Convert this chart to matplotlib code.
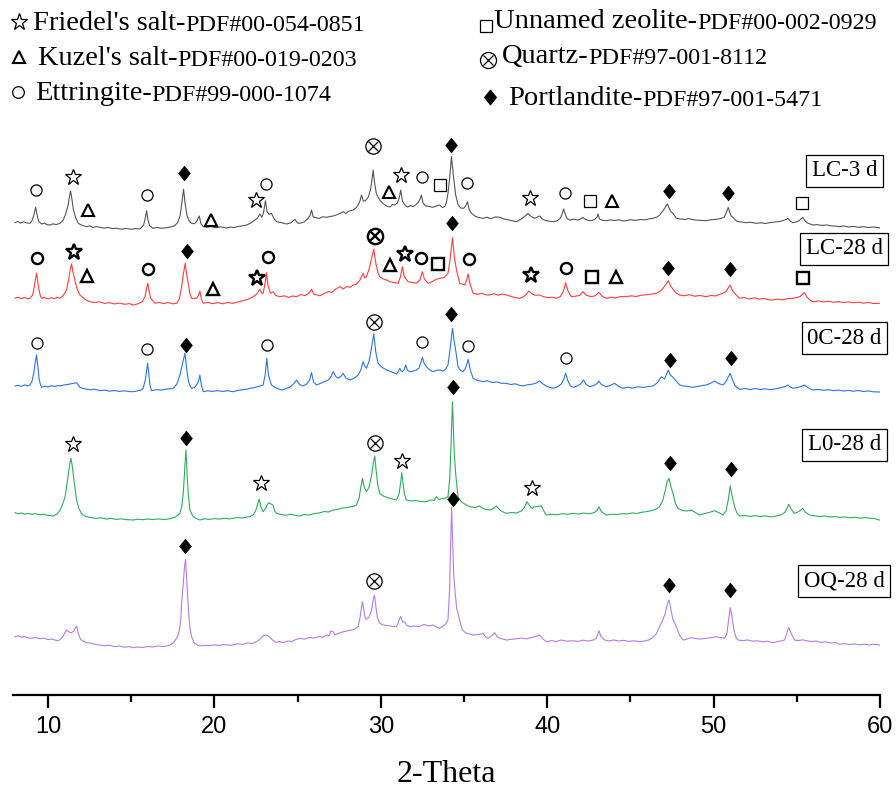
import matplotlib
matplotlib.use("Agg")
import matplotlib.pyplot as plt

plt.rcParams['font.family'] = ['Liberation Serif', 'DejaVu Sans']

# ------------------ data (2-theta, intensity a.u.) ----------------------
tt_lc3 = [8.02, 8.2, 8.35, 8.52, 8.7, 8.92, 9.05, 9.15, 9.26, 9.36, 9.45, 9.62, 9.8, 9.95, 10.12, 10.3, 10.5,
          10.72, 10.9, 11.05, 11.2, 11.3, 11.36, 11.44, 11.52, 11.65, 11.82, 12.0, 12.15, 12.32, 12.5, 12.7,
          12.9, 13.12, 13.4, 13.6, 13.85, 14.13, 14.4, 14.7, 15.0, 15.3, 15.53, 15.75, 15.85, 15.93, 16.0,
          16.1, 16.32, 16.55, 16.8, 17.13, 17.4, 17.6, 17.8, 17.95, 18.05, 18.15, 18.24, 18.35, 18.5, 18.63,
          18.8, 18.93, 19.09, 19.2, 19.35, 19.53, 19.8, 20.1, 20.4, 20.7, 21.0, 21.13, 21.4, 21.7, 21.93,
          22.2, 22.43, 22.6, 22.73, 22.85, 22.95, 23.07, 23.17, 23.3, 23.43, 23.6, 23.74, 24.0, 24.34, 24.6,
          24.84, 25.0, 25.14, 25.4, 25.63, 25.76, 25.84, 25.94, 26.04, 26.3, 26.5, 26.74, 26.95, 27.14, 27.4,
          27.6, 27.74, 27.9, 28.1, 28.34, 28.5, 28.64, 28.75, 28.84, 28.95, 29.08, 29.25, 29.38, 29.47, 29.54,
          29.62, 29.74, 29.94, 30.1, 30.34, 30.55, 30.7, 30.84, 31.0, 31.12, 31.2, 31.3, 31.45, 31.6, 31.8,
          31.94, 32.1, 32.24, 32.36, 32.44, 32.54, 32.7, 32.9, 33.14, 33.35, 33.54, 33.7, 33.84, 33.95, 34.04,
          34.14, 34.25, 34.36, 34.5, 34.65, 34.8, 34.98, 35.1, 35.21, 35.32, 35.45, 35.7, 35.9, 36.14, 36.4,
          36.6, 36.9, 37.15, 37.4, 37.65, 37.9, 38.15, 38.4, 38.6, 38.75, 38.85, 39.0, 39.15, 39.25, 39.4,
          39.55, 39.7, 39.9, 40.1, 40.35, 40.6, 40.8, 40.92, 40.99, 41.1, 41.2, 41.35, 41.6, 41.85, 42.0,
          42.15, 42.3, 42.5, 42.66, 42.85, 43.0, 43.05, 43.15, 43.3, 43.56, 43.8, 44.05, 44.3, 44.55, 44.76,
          45.0, 45.3, 45.6, 45.9, 46.1, 46.36, 46.6, 46.76, 46.95, 47.1, 47.22, 47.35, 47.45, 47.56, 47.76,
          48.0, 48.3, 48.5, 48.66, 48.9, 49.2, 49.56, 49.8, 50.1, 50.3, 50.46, 50.65, 50.78, 50.88, 50.98,
          51.08, 51.16, 51.3, 51.46, 51.7, 51.95, 52.2, 52.56, 52.85, 53.1, 53.4, 53.7, 53.95, 54.2, 54.35,
          54.46, 54.6, 54.76, 54.95, 55.15, 55.28, 55.36, 55.5, 55.65, 55.96, 56.2, 56.5, 56.8, 57.1, 57.35,
          57.57, 57.8, 58.1, 58.4, 58.7, 59.0, 59.3, 59.6, 59.97]
i_lc3 = [7.3, 8.5, 6.8, 8.3, 7.2, 6.7, 9.5, 15, 22.7, 14, 8.5, 6, 6.8, 5.2, 5, 6.2, 5.4,
         6.7, 9.5, 15, 24, 34, 39, 31, 21, 13, 6.7, 5, 4.2, 3.3, 4.2, 2.6,
         3.4, 2.7, 1.8, 2.6, 1.5, 1.7, 0.8, 1.6, 0.7, 1.4, 1, 5, 12, 19.3, 11,
         4.5, 1.7, 2.6, 1.7, 2.3, 3.2, 4.2, 7.5, 15, 28, 40.7, 27, 15, 8.5, 6.7,
         6.3, 8.3, 14, 6, 3.4, 2.7, 3.5, 2.3, 3.1, 2.1, 3, 2.3, 3.4, 4.2, 5,
         7, 10, 12, 16, 12.7, 17, 29.3, 18.3, 15.5, 16.7, 11, 8.3, 7.5, 6, 7.2,
         10.7, 7, 6.7, 8, 11.7, 15, 20, 13, 12.7, 11.5, 13.2, 12.7, 13.5, 14, 15.5,
         17, 18.3, 16.5, 19, 20, 22, 25, 29, 35, 29, 29.3, 33, 40, 50, 60,
         48, 36, 30, 27, 24, 23, 25.5, 25, 27, 33, 40, 29, 25, 23, 24.5,
         23.3, 25, 27.3, 31, 35, 27, 24, 23.5, 22.7, 24, 25, 22.5, 23.3, 28, 36.7,
         52, 73.3, 55, 35, 25, 22, 21.7, 24, 28.3, 20, 16.7, 13.5, 12.5, 11.7, 12.8,
         11.2, 13.1, 12.7, 11, 10.2, 9.2, 8.3, 10.5, 13, 15, 16.7, 14, 12.5, 11.7, 12.8,
         14, 11, 9.5, 8.8, 8.3, 9.2, 12, 17, 21, 15, 11.5, 10, 10.8, 10, 11,
         12.7, 10.5, 9.6, 9.3, 10.5, 13, 16, 11, 9.8, 9.3, 10.1, 9.5, 10.2, 9, 9.3,
         10.3, 9.6, 10.5, 10.2, 11, 11.7, 13, 15, 19, 23, 26, 21, 18, 16.7, 11.7,
         11, 10.5, 11.5, 10.7, 10, 9.6, 9.3, 10.1, 10.6, 11, 11.7, 13, 18, 22.7, 17,
         13.5, 12.7, 10, 8.3, 8, 7.3, 7.8, 6.7, 7.2, 6.5, 7.4, 8, 8.5, 9.5, 10.5,
         11.7, 9, 7.3, 8, 9.5, 11.5, 12.7, 9, 7, 5, 5.4, 4.6, 5, 4.1, 3.8,
         3.3, 4, 3.1, 3.6, 2.7, 3.3, 2.5, 3, 2.3]

tt_lc28 = [8.02, 8.2, 8.4, 8.6, 8.8, 8.92, 9.08, 9.18, 9.26, 9.32, 9.4, 9.46, 9.55, 9.62, 9.8, 10.0, 10.2,
           10.4, 10.55, 10.72, 10.9, 11.05, 11.12, 11.25, 11.35, 11.42, 11.5, 11.62, 11.75, 11.92, 12.1, 12.3,
           12.52, 12.8, 13.1, 13.4, 13.7, 14.0, 14.3, 14.6, 14.9, 15.12, 15.4, 15.65, 15.83, 15.92, 16.0,
           16.08, 16.17, 16.43, 16.7, 16.95, 17.2, 17.5, 17.73, 17.9, 18.03, 18.15, 18.25, 18.34, 18.43, 18.52,
           18.63, 18.93, 19.05, 19.13, 19.22, 19.33, 19.6, 19.9, 20.2, 20.5, 20.8, 21.13, 21.4, 21.7, 22.0,
           22.33, 22.55, 22.73, 22.85, 22.93, 23.05, 23.13, 23.22, 23.37, 23.53, 23.7, 23.93, 24.2, 24.45, 24.7,
           24.94, 25.2, 25.45, 25.7, 25.84, 25.97, 26.15, 26.34, 26.6, 26.85, 27.05, 27.3, 27.54, 27.75, 27.95,
           28.15, 28.34, 28.55, 28.75, 28.94, 29.04, 29.14, 29.3, 29.45, 29.58, 29.7, 29.82, 29.94, 30.15,
           30.35, 30.54, 30.8, 31.04, 31.18, 31.3, 31.42, 31.64, 31.9, 32.14, 32.35, 32.5, 32.62, 32.84, 33.1,
           33.3, 33.54, 33.8, 34.04, 34.16, 34.31, 34.42, 34.55, 34.74, 35.05, 35.16, 35.25, 35.35, 35.55,
           35.8, 36.05, 36.3, 36.55, 36.8, 37.05, 37.3, 37.55, 37.8, 38.05, 38.35, 38.6, 38.78, 38.91, 39.05,
           39.25, 39.55, 39.8, 40.05, 40.3, 40.55, 40.8, 40.98, 41.11, 41.25, 41.45, 41.7, 41.95, 42.15, 42.35,
           42.65, 42.9, 43.11, 43.3, 43.56, 43.85, 44.1, 44.4, 44.76, 45.05, 45.35, 45.65, 45.95, 46.25, 46.56,
           46.8, 46.96, 47.15, 47.28, 47.42, 47.56, 47.75, 47.96, 48.25, 48.55, 48.85, 49.2, 49.56, 49.85,
           50.1, 50.35, 50.56, 50.75, 50.88, 51.0, 51.12, 51.26, 51.56, 51.85, 52.15, 52.45, 52.75, 53.05,
           53.3, 53.56, 53.85, 54.15, 54.45, 54.76, 55.0, 55.2, 55.35, 55.47, 55.6, 55.75, 55.96, 56.3, 56.6,
           56.9, 57.2, 57.5, 57.8, 58.1, 58.4, 58.7, 59.0, 59.3, 59.6, 59.97]
i_lc28 = [6.7, 7.8, 6.4, 7.5, 6.2, 6.7, 10, 18.3, 27, 31.7, 22, 15, 9, 6.7, 7.4, 6.1, 7.2,
          6.3, 7.8, 6.7, 9, 13, 15, 26, 37, 41, 33, 25, 16, 10, 7.5, 5,
          3.3, 2.4, 3.2, 1.6, 2.3, 1.1, 1.9, 0.7, 1.4, 0, 1.2, 3, 8.3, 16, 21.7,
          14, 6.7, 1.7, 2.6, 1.4, 2.5, 1.2, 1.7, 6, 18.3, 32, 41.7, 30, 21.7, 12,
          6.7, 6.7, 10, 14, 6, 1.7, 2.6, 1.3, 2.4, 1.2, 2.5, 1.7, 3, 4.2, 5.5,
          8.3, 11, 15.7, 11.7, 11.7, 22, 32.3, 20, 11.7, 13.3, 9.5, 8.3, 9.2, 7.6, 9,
          8.3, 10.5, 9.4, 12, 15.7, 11, 10.2, 9.3, 11.5, 13.5, 12.6, 16, 18.3, 16, 18.5,
          17.6, 20, 21, 25, 31.7, 27, 28.3, 36, 47, 55.7, 42, 33, 28.3, 26,
          25, 23.3, 22.5, 21.7, 28, 38.3, 28, 23.3, 22.4, 21.7, 25, 33.3, 26, 21.7, 23.5,
          25.5, 26.7, 27.5, 31.7, 45, 67.3, 48, 35, 21.7, 20, 25, 31, 22, 11.7,
          10.6, 11.8, 10.2, 10, 11.3, 9.8, 11, 10, 8.8, 7.5, 6.7, 8.5, 11.5, 14, 11.5,
          9.8, 10, 8.2, 7.4, 7.8, 6.7, 8.5, 14, 22.3, 14, 8.3, 8.8, 9.6, 13.3, 9.7,
          8.3, 9.4, 12.7, 8.8, 6.7, 7.8, 7, 8.4, 8.3, 9.2, 8.5, 9.8, 10.2, 10.8, 11.7,
          14, 16.7, 21, 24.3, 19, 15.7, 12, 10, 9.2, 10.4, 8.8, 9.5, 8.3, 9.6,
          9, 10.5, 11.7, 13.5, 17, 20, 15, 11.7, 6.7, 7.4, 6.1, 7.2, 5.8, 6.6,
          5.2, 5, 5.9, 5.2, 6.3, 6.7, 7.4, 8.5, 11, 12.3, 8, 5.5, 3.3, 4, 3,
          3.8, 2.7, 3.4, 2.4, 3.1, 2.2, 2.9, 1.8, 2.6, 1.5, 1.7]

tt_0c28 = [8.02, 8.2, 8.4, 8.6, 8.8, 8.92, 9.05, 9.16, 9.24, 9.32, 9.4, 9.48, 9.56, 9.62, 9.8, 10.0, 10.2,
           10.4, 10.6, 10.72, 10.95, 11.2, 11.45, 11.6, 11.72, 11.85, 11.92, 12.1, 12.3, 12.55, 12.8, 13.12,
           13.4, 13.7, 14.0, 14.3, 14.6, 14.9, 15.12, 15.4, 15.6, 15.72, 15.85, 15.93, 15.99, 16.06, 16.14,
           16.23, 16.5, 16.8, 17.1, 17.35, 17.53, 17.75, 17.93, 18.08, 18.23, 18.33, 18.43, 18.53, 18.63,
           18.8, 18.93, 19.05, 19.13, 19.22, 19.33, 19.6, 19.9, 20.2, 20.5, 20.8, 21.13, 21.4, 21.7, 21.95,
           22.13, 22.4, 22.65, 22.93, 23.05, 23.15, 23.25, 23.43, 23.6, 23.8, 24.04, 24.3, 24.55, 24.75, 24.94,
           25.12, 25.33, 25.55, 25.72, 25.84, 25.96, 26.14, 26.35, 26.6, 26.85, 27.0, 27.14, 27.3, 27.44, 27.6,
           27.74, 27.9, 28.14, 28.35, 28.5, 28.64, 28.8, 28.94, 29.04, 29.14, 29.3, 29.45, 29.58, 29.7, 29.84,
           30.05, 30.34, 30.6, 30.8, 30.94, 31.04, 31.14, 31.22, 31.3, 31.4, 31.5, 31.6, 31.74, 31.95, 32.14,
           32.3, 32.42, 32.5, 32.6, 32.74, 32.95, 33.14, 33.35, 33.54, 33.75, 33.9, 34.04, 34.16, 34.31, 34.4,
           34.5, 34.64, 34.8, 34.94, 35.1, 35.25, 35.38, 35.55, 35.8, 36.14, 36.4, 36.7, 37.0, 37.25, 37.55,
           37.8, 38.1, 38.3, 38.55, 38.8, 39.1, 39.35, 39.55, 39.75, 40.0, 40.2, 40.35, 40.6, 40.85, 41.0,
           41.11, 41.25, 41.4, 41.55, 41.8, 42.0, 42.19, 42.35, 42.55, 42.8, 43.0, 43.11, 43.25, 43.56, 43.8,
           44.05, 44.25, 44.55, 44.85, 45.15, 45.45, 45.75, 46.05, 46.36, 46.6, 46.86, 47.05, 47.18, 47.28,
           47.4, 47.56, 47.75, 47.96, 48.2, 48.45, 48.76, 49.0, 49.3, 49.56, 49.8, 50.06, 50.3, 50.56, 50.75,
           50.88, 51.0, 51.12, 51.3, 51.56, 51.9, 52.2, 52.5, 52.8, 53.1, 53.35, 53.56, 53.85, 54.1, 54.3,
           54.46, 54.6, 54.76, 55.0, 55.25, 55.47, 55.7, 55.96, 56.3, 56.6, 56.9, 57.2, 57.5, 57.8, 58.1,
           58.4, 58.7, 59.0, 59.3, 59.6, 59.97]
i_0c28 = [6, 6.8, 5.6, 7.1, 6.2, 7, 11, 20.3, 30, 37, 24, 12, 7, 4.7, 5.8, 5.1, 6.2,
          5.6, 6.4, 6, 7, 7.6, 8.4, 8.8, 9.3, 6.5, 4.7, 3.6, 2.9, 2.2, 2.8, 1.3,
          1.8, 0.9, 1.5, 0.6, 1.2, 0.4, 0.3, 1.2, 2, 3.7, 12, 22, 28.7, 18, 6,
          1.3, 2.3, 1.9, 2.8, 3.2, 3.7, 8, 17, 28, 38.7, 24, 12, 6.5, 3.7,
          4.4, 7, 11, 17, 7, 0.3, 1.2, 0.6, 1.4, 0.5, 1.3, 0.3, 1.5, 2.4, 2.8,
          3.7, 4.3, 5.5, 7, 17, 33.7, 17, 7, 5, 3.5, 2, 3.4, 5, 8, 12,
          7.5, 6, 8, 12, 19.3, 10, 7, 8.5, 10.2, 12, 15, 20.3, 15.5, 13.7, 15.5,
          18.7, 14, 12, 13.5, 15, 17, 22, 30.3, 26, 23.7, 31, 45, 58, 40, 28.7,
          25, 22, 20.5, 19, 18, 20, 23.7, 21, 20.3, 22, 27, 22, 20.3, 20.8, 22,
          24, 30, 34.7, 29, 25.3, 22, 20.3, 21.6, 22, 21, 23, 27, 42, 63.7, 52,
          42, 25.3, 21.5, 20.3, 24, 32.7, 22, 13.7, 11.5, 10.3, 11.2, 9.5, 10, 8.7, 8.7,
          7.5, 8.2, 6.8, 6, 7.2, 7.8, 9, 11, 8, 5.5, 4.5, 3.7, 5, 8, 13,
          18.7, 11, 6, 4.7, 6, 8, 12, 7.5, 5.3, 6.5, 8.5, 11, 7.5, 5.3, 6.6,
          8.7, 6, 3.7, 4.8, 3.9, 5.2, 4.6, 5.4, 6, 9, 15.3, 13, 18, 22,
          17, 14.7, 11, 7, 6, 5.5, 4.7, 5.5, 6.4, 7, 8.6, 11, 8.5, 7, 10.5,
          15, 18.7, 13, 6, 2.7, 3.4, 2.5, 3.5, 2.6, 3.2, 2.4, 2.7, 3.5, 4.5, 5.5,
          7, 5, 3.7, 4.3, 5.5, 7, 4, 2, 2.5, 1.7, 2.3, 1.3, 1.9, 1, 1.6,
          0.8, 1.5, 0.5, 1.1, 0.2, 0]

tt_l028 = [8.02, 8.2, 8.4, 8.6, 8.8, 9.0, 9.25, 9.5, 9.75, 10.0, 10.32, 10.55, 10.7, 10.82, 10.95, 11.05,
           11.12, 11.25, 11.32, 11.38, 11.45, 11.56, 11.65, 11.72, 11.85, 12.0, 12.15, 12.32, 12.6, 12.9,
           13.2, 13.5, 13.8, 14.1, 14.4, 14.7, 15.12, 15.4, 15.7, 16.0, 16.3, 16.6, 16.9, 17.13, 17.4, 17.65,
           17.82, 17.93, 18.05, 18.13, 18.2, 18.25, 18.29, 18.34, 18.38, 18.43, 18.53, 18.7, 18.9, 19.13,
           19.4, 19.7, 20.0, 20.3, 20.6, 20.9, 21.13, 21.4, 21.7, 21.95, 22.13, 22.35, 22.5, 22.6, 22.69,
           22.8, 22.93, 23.1, 23.2, 23.29, 23.4, 23.53, 23.62, 23.74, 24.0, 24.3, 24.6, 24.9, 25.14, 25.4,
           25.7, 26.0, 26.3, 26.6, 26.85, 27.14, 27.4, 27.7, 28.0, 28.3, 28.54, 28.7, 28.8, 28.9, 29.0,
           29.14, 29.3, 29.45, 29.55, 29.64, 29.72, 29.82, 29.94, 30.15, 30.4, 30.7, 30.94, 31.1, 31.2,
           31.26, 31.33, 31.42, 31.54, 31.8, 32.1, 32.4, 32.74, 33.0, 33.2, 33.34, 33.5, 33.7, 33.9, 34.04,
           34.14, 34.2, 34.26, 34.31, 34.36, 34.42, 34.5, 34.64, 34.85, 35.14, 35.4, 35.7, 35.9, 36.14,
           36.35, 36.55, 36.75, 36.95, 37.15, 37.35, 37.55, 37.85, 38.15, 38.45, 38.65, 38.79, 38.95, 39.1,
           39.2, 39.35, 39.5, 39.65, 39.8, 39.95, 40.25, 40.6, 40.9, 41.25, 41.55, 41.9, 42.2, 42.5, 42.8,
           43.0, 43.11, 43.25, 43.56, 43.9, 44.2, 44.5, 44.8, 45.1, 45.4, 45.7, 45.96, 46.3, 46.55, 46.76,
           46.95, 47.1, 47.2, 47.32, 47.44, 47.56, 47.7, 47.86, 48.1, 48.4, 48.66, 48.9, 49.16, 49.4, 49.7,
           50.06, 50.3, 50.56, 50.75, 50.88, 51.0, 51.1, 51.26, 51.4, 51.56, 51.9, 52.2, 52.5, 52.8, 53.1,
           53.35, 53.56, 53.85, 54.1, 54.3, 54.42, 54.52, 54.65, 54.86, 55.05, 55.2, 55.36, 55.5, 55.76,
           56.1, 56.4, 56.7, 57.0, 57.3, 57.6, 57.9, 58.2, 58.5, 58.8, 59.1, 59.35, 59.57, 59.8, 59.97]
i_l028 = [7.3, 6.2, 7, 5.8, 6.6, 5.7, 6.4, 5.1, 5.8, 4.6, 4, 6, 9, 13.3, 19, 25,
          33.3, 48, 57, 61.7, 55, 40, 29, 20, 12, 7, 4.5, 3.3, 2.4, 1.6,
          2.2, 1, 1.6, 0.6, 1.2, 0.4, 0, 0.8, 0.3, 1, 0.4, 1.1, 0.6, 0.7, 1.5, 3,
          5, 6.7, 14, 26.7, 45, 60, 70, 55, 40, 26.7, 10, 4, 1.5, 0,
          1.2, 0.6, 1.4, 0.9, 1.8, 1.1, 1.7, 2.5, 2, 3, 3.3, 5.5, 10, 16, 21,
          13, 8.3, 12, 16, 17.3, 16, 15, 9, 6.7, 5.5, 4.8, 5.8, 4.5, 4, 5.5,
          5, 6.5, 7, 8.5, 8, 10, 10.5, 12, 12.5, 13.5, 15, 22, 33, 41.7, 33,
          28.3, 33, 45, 57, 64, 50, 35, 26.7, 24, 22.5, 21, 20, 26, 38,
          47.3, 38, 26, 20, 19, 19.5, 18.5, 18.3, 20, 19.5, 23.3, 20.5, 21.5, 22, 23.3,
          40, 65, 95, 118.3, 95, 65, 46.7, 23.3, 18, 15, 13, 12.5, 14, 11.7,
          10.5, 10, 11.5, 14, 10, 8, 6.7, 7.5, 7, 9, 13, 18.3, 14, 11.5,
          13, 13.3, 13.5, 14, 9, 5, 5.8, 5.2, 6.3, 5.8, 6.7, 6, 7, 6.2, 7.2,
          9.5, 13.3, 8.5, 5, 5.8, 5.4, 6.4, 6, 7, 6.6, 7.8, 8.3, 9.5, 11, 13.3,
          20, 30, 38, 41.7, 33, 26.7, 17, 11.7, 9.5, 9, 10, 7.5, 5, 6.2, 7.4,
          9.3, 7.5, 5, 9, 20, 34.3, 25, 13.3, 7, 4, 4.5, 3.6, 4.4, 3.5, 4.1,
          3.2, 3.3, 4.2, 5.5, 8, 12, 15.7, 11, 6.7, 7.8, 9.5, 11.7, 8, 5,
          4.1, 3.5, 4, 3, 3.5, 2.6, 3.1, 2.3, 2.7, 1.9, 2.4, 1.8, 1.7, 0.8, 0]

tt_oq28 = [8.02, 8.2, 8.4, 8.6, 8.8, 9.0, 9.25, 9.5, 9.75, 10.0, 10.25, 10.45, 10.62, 10.8, 10.95, 11.05,
           11.12, 11.25, 11.42, 11.55, 11.65, 11.72, 11.82, 11.92, 12.02, 12.3, 12.6, 12.85, 13.12, 13.4, 13.7,
           14.0, 14.3, 14.6, 14.9, 15.12, 15.4, 15.7, 16.0, 16.3, 16.6, 16.9, 17.13, 17.35, 17.55, 17.73,
           17.88, 17.98, 18.03, 18.12, 18.2, 18.27, 18.33, 18.38, 18.43, 18.52, 18.63, 18.8, 18.95, 19.13,
           19.4, 19.7, 20.0, 20.3, 20.6, 20.9, 21.13, 21.4, 21.7, 22.0, 22.3, 22.55, 22.75, 22.95, 23.13,
           23.3, 23.5, 23.7, 23.9, 24.13, 24.4, 24.65, 24.9, 25.14, 25.4, 25.7, 26.0, 26.3, 26.5, 26.74,
           26.9, 27.0, 27.14, 27.25, 27.5, 27.8, 28.1, 28.4, 28.64, 28.75, 28.83, 28.9, 28.98, 29.06, 29.14,
           29.3, 29.45, 29.55, 29.62, 29.7, 29.8, 29.94, 30.15, 30.4, 30.7, 30.94, 31.05, 31.12, 31.2, 31.32,
           31.44, 31.55, 31.74, 32.0, 32.3, 32.6, 32.85, 33.14, 33.35, 33.54, 33.75, 33.9, 34.04, 34.14, 34.2,
           34.26, 34.32, 34.38, 34.44, 34.56, 34.74, 34.9, 35.14, 35.35, 35.55, 35.85, 36.05, 36.14, 36.3,
           36.44, 36.65, 36.85, 37.0, 37.2, 37.55, 37.85, 38.15, 38.45, 38.75, 39.05, 39.3, 39.55, 39.75,
           39.95, 40.25, 40.55, 40.85, 41.15, 41.55, 41.85, 42.15, 42.45, 42.75, 42.95, 43.05, 43.11, 43.22,
           43.45, 43.7, 44.0, 44.3, 44.6, 44.9, 45.2, 45.56, 45.85, 46.1, 46.35, 46.55, 46.76, 46.95, 47.1,
           47.22, 47.32, 47.42, 47.55, 47.76, 47.95, 48.16, 48.4, 48.65, 48.9, 49.2, 49.56, 49.85, 50.16,
           50.4, 50.66, 50.8, 50.9, 51.0, 51.1, 51.22, 51.34, 51.46, 51.75, 52.05, 52.35, 52.65, 52.95, 53.25,
           53.56, 53.85, 54.1, 54.26, 54.38, 54.52, 54.65, 54.86, 55.1, 55.35, 55.56, 55.85, 56.15, 56.45,
           56.75, 57.05, 57.35, 57.57, 57.85, 58.15, 58.45, 58.75, 59.05, 59.35, 59.6, 59.97]
i_oq28 = [11.3, 12.2, 10.8, 11.5, 10.2, 9.7, 10.6, 9.2, 9.9, 8.5, 9, 7.8, 7.3, 9.5, 13, 16,
          18, 16, 15.3, 17, 20, 22, 15, 10, 8, 5.5, 4.8, 3.6, 3, 2.2, 2.8,
          1.4, 2, 0.8, 1.5, 0.3, 1, 0.5, 1.6, 1, 2, 1.5, 2, 3, 5.5, 9.7,
          16, 28, 44.7, 62, 80, 88.7, 70, 55, 41.3, 22, 11.3, 5, 3, 2,
          2.8, 2.3, 3.2, 2.6, 3.4, 2.8, 3, 4.2, 3.7, 5, 4.6, 6.5, 9, 12.5, 13,
          11, 8, 5.5, 6.5, 5.3, 7, 6.5, 8.5, 9.7, 8.8, 10.5, 10, 11.5, 10.8, 13,
          12, 17, 16.3, 13, 15, 16.5, 17.5, 18.5, 21.3, 30, 40, 46.3, 38, 30, 28.7,
          31, 38, 49, 53, 42, 30, 24.7, 23, 22.5, 21.6, 21.3, 25, 29, 31.3, 26,
          26.3, 23, 21.3, 22, 21.5, 23.5, 22, 23, 21, 19.7, 22, 24, 28, 61, 105,
          141, 105, 75, 61, 40, 28, 18, 14.7, 14, 13, 13.5, 14, 14.7, 11,
          9.7, 12, 15.3, 11, 9.5, 8, 8.6, 9.3, 10, 9, 10.5, 11.5, 13, 9,
          6.3, 7.4, 6.5, 8, 6.8, 7.3, 6.6, 7.8, 7, 7.9, 9.7, 14, 17.3, 12,
          8, 7, 8, 7, 7.7, 6.6, 7.2, 6.3, 7, 8, 10.5, 14, 21.3, 28, 35,
          44, 48, 40, 29, 21.3, 13, 8, 8.8, 10.5, 9.5, 9, 9.7, 10.3, 11.3,
          10.5, 9.7, 14, 28, 40.3, 32, 18, 11, 8, 7.4, 8, 6.8, 7.3, 6.1, 6.8,
          5.3, 6.4, 7.2, 8, 14, 20.7, 15, 8, 7.4, 8.2, 7.3, 6.5, 7, 5.6,
          6.2, 5, 5.4, 3.7, 4.4, 3.5, 4, 3.2, 3.8, 3, 3.8, 3]

samples = ['LC-3 d', 'LC-28 d', '0C-28 d', 'L0-28 d', 'OQ-28 d']

# phase marks: (phase, 2-theta, height above the pattern's baseline)
# F Friedel's salt, K Kuzel's salt, E ettringite, Z zeolite, Q quartz, P portlandite
marks_lc3 = [('E', 9.28, 40), ('F', 11.48, 52.7), ('K', 12.38, 20), ('E', 15.96, 35), ('P', 18.19, 56.7),
             ('K', 19.79, 10), ('F', 22.53, 30), ('E', 23.09, 46), ('Q', 29.54, 84), ('K', 30.48, 38.3),
             ('F', 31.24, 55), ('E', 32.5, 52.7), ('Z', 33.54, 45), ('P', 34.25, 85), ('E', 35.18, 46.7),
             ('F', 38.95, 31.7), ('E', 41.05, 37.3), ('Z', 42.55, 29.3), ('K', 43.92, 29.3),
             ('P', 47.32, 39), ('P', 50.88, 36.7), ('Z', 55.33, 26.7)]
marks_lc28 = [('E', 9.36, 46.7), ('F', 11.56, 53.3), ('K', 12.36, 29), ('E', 16.02, 35.7), ('P', 18.33, 54.3),
              ('K', 19.93, 15.7), ('F', 22.57, 26.7), ('E', 23.2, 47.7), ('Q', 29.68, 69), ('K', 30.58, 40),
              ('F', 31.48, 50.7), ('E', 32.44, 46.7), ('Z', 33.44, 41), ('P', 34.31, 81.7), ('E', 35.3, 45.7),
              ('F', 39.05, 30), ('E', 41.11, 37.3), ('Z', 42.71, 28.3), ('K', 44.16, 28.3),
              ('P', 47.26, 36.7), ('P', 51.0, 35.7), ('Z', 55.36, 26.7)]
marks_0c28 = [('E', 9.32, 48.7), ('E', 15.96, 42.7), ('P', 18.27, 47), ('E', 23.14, 47), ('Q', 29.58, 70.3),
              ('E', 32.48, 49.7), ('P', 34.25, 78), ('E', 35.24, 46), ('E', 41.11, 33.7),
              ('P', 47.36, 32), ('P', 51.02, 33.7)]
marks_l028 = [('F', 11.48, 76), ('P', 18.27, 81.7), ('F', 22.79, 37.3), ('Q', 29.64, 77.3), ('F', 31.3, 59.3),
              ('P', 34.34, 132.7), ('F', 39.09, 32.3), ('P', 47.36, 57.3), ('P', 51.02, 50.7)]
marks_oq28 = [('P', 18.23, 102), ('Q', 29.58, 67.3), ('P', 34.34, 148.7), ('P', 47.32, 63), ('P', 51.0, 58)]

legend_names = [('F', "Friedel's salt-", 'PDF#00-054-0851'),
                ('K', "Kuzel's salt-", 'PDF#00-019-0203'),
                ('E', 'Ettringite-', 'PDF#99-000-1074'),
                ('Z', 'Unnamed zeolite-', 'PDF#00-002-0929'),
                ('Q', 'Quartz-', 'PDF#97-001-8112'),
                ('P', 'Portlandite-', 'PDF#97-001-5471')]

# ------------------ style ----------------------
offsets = [465, 390, 303, 175, 47]
colors = ['#555555', '#ff3d3d', '#2b74e2', '#2fab5f', '#b07ee6']
label_h = [59, 56, 54, 75, 67]
bold = [False, True, False, False, False]

diamond = [(0, 1), (0.8, 0), (0, -1), (-0.8, 0), (0, 1)]


def mark(ax, code, x, y, thick, scale=1.0, transform=None):
    lw = 1.7 if thick else 0.9
    kw = dict(ls='none', clip_on=False, zorder=5)
    if transform is not None:
        kw['transform'] = transform
    if code == 'F':
        ax.plot(x, y, marker='*', ms=12 * scale, mfc='none', mec='black', mew=lw, **kw)
    elif code == 'K':
        ax.plot(x, y, marker='^', ms=8.5 * scale, mfc='none', mec='black', mew=max(lw, 1.5), **kw)
    elif code == 'E':
        ax.plot(x, y, marker='o', ms=8 * scale, mfc='none', mec='black', mew=lw, **kw)
    elif code == 'Z':
        ax.plot(x, y, marker='s', ms=8.5 * scale, mfc='none', mec='black', mew=lw, **kw)
    elif code == 'Q':
        ax.plot(x, y, marker='o', ms=11 * scale, mfc='none', mec='black', mew=lw, **kw)
        ax.plot(x, y, marker='x', ms=7.5 * scale, mec='black', mew=lw, **kw)
    elif code == 'P':
        ax.plot(x, y, marker=diamond, ms=10.5 * scale, mfc='black', mec='black', mew=0.5, **kw)


fig = plt.figure(figsize=(8.96, 7.89), dpi=100)
ax = fig.add_axes([13 / 896, 94 / 789, 867 / 896, 575 / 789])

patterns = [(tt_lc3, i_lc3), (tt_lc28, i_lc28), (tt_0c28, i_0c28), (tt_l028, i_l028), (tt_oq28, i_oq28)]
all_marks = [marks_lc3, marks_lc28, marks_0c28, marks_l028, marks_oq28]

for k in range(len(samples)):
    tt, inten = patterns[k]
    off = offsets[k]
    ax.plot(tt, [v + off for v in inten], color=colors[k], lw=0.8)
    for code, x, h in all_marks[k]:
        mark(ax, code, x, h + off, bold[k])
    ax.text(57.86, off + label_h[k], samples[k], fontsize=16.5, ha='center', va='center',
            bbox=dict(boxstyle='square,pad=0.24', fc='white', ec='black', lw=0.9))

ax.set_xlim(7.9, 60)
ax.set_ylim(0, 575)
for s in ['left', 'right', 'top']:
    ax.spines[s].set_visible(False)
ax.spines['bottom'].set_linewidth(1.6)
ax.set_yticks([])
ax.set_xticks([10, 20, 30, 40, 50, 60])
ax.set_xticks([15, 25, 35, 45, 55], minor=True)
ax.tick_params(axis='x', which='major', length=9, width=1.6, direction='out', pad=6)
ax.tick_params(axis='x', which='minor', length=5, width=1.6, direction='out')
for t in ax.get_xticklabels():
    t.set_fontfamily('Liberation Sans')
    t.set_fontsize(17)

fig.text(446 / 896, 14 / 789, '2-Theta', fontsize=23, ha='center', va='center')

# legend block above the plot
sym_x = [19, 19, 18, 486, 488, 490]
txt_x = [33, 38, 35, 494, 502, 508]
base_y = [30, 65, 100, 28, 63, 105]
sym_y = [22, 57, 92, 26, 60, 97]
for j, (code, name, pdf) in enumerate(legend_names):
    mark(ax, code, sym_x[j] / 896, 1 - sym_y[j] / 789, False, scale=1.05, transform=fig.transFigure)
    t1 = fig.text(txt_x[j] / 896, 1 - base_y[j] / 789, name, fontsize=20.5, va='baseline', ha='left')
    ax.annotate(pdf, xy=(1, 0), xycoords=t1, fontsize=17.3, va='bottom', ha='left',
                annotation_clip=False)

fig.savefig('out.png', dpi=100)
